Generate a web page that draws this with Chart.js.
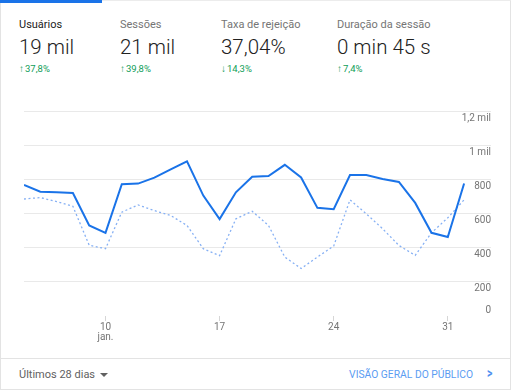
<!DOCTYPE html>
<html>
<head>
<meta charset="utf-8">
<script src="https://cdn.jsdelivr.net/npm/chart.js@4/dist/chart.umd.min.js"></script>
<style>
  body { margin: 0; background: #fff; font-family: Roboto, "Noto Sans", sans-serif; }
  .card { position: absolute; left: 0; top: 0; width: 509px; height: 388px; border: 1px solid #e3e3e3; border-top-color: #ececec; }
  .tab { position: absolute; left: -1px; top: -1px; width: 102px; height: 3px; background: #1a73e8; }
  .metric { position: absolute; top: 16px; }
  .metric .title { font-size: 11px; color: #757575; height: 16px; line-height: 16px; }
  .metric.sel .title { color: #212121; }
  .metric .value { font-size: 20.5px; font-weight: 300; color: #212121; line-height: 26px; margin-top: 1px; }
  .metric .delta { font-size: 9.5px; color: #0f9d58; line-height: 12px; margin-top: 3px; }
  .metric .delta b { font-weight: 700; font-size: 10px; margin-right: 1px; }
  #chartBox { position: absolute; left: -1px; top: 99px; width: 512px; height: 245px; }
  .footer { position: absolute; left: 0; top: 357px; width: 509px; border-top: 1px solid #e3e3e3; height: 31px; }
  .range { position: absolute; left: 18px; top: 9px; font-size: 11px; color: #616161; }
  .range .caret { display: inline-block; margin-left: 5px; width: 0; height: 0; border-left: 4px solid transparent; border-right: 4px solid transparent; border-top: 4px solid #616161; vertical-align: middle; }
  .link { position: absolute; right: 37px; top: 9px; font-size: 10.3px; color: #5b9cf2; }
  .chev { position: absolute; right: 17px; top: 6px; font-size: 14px; font-weight: 700; color: #4f8ff0; transform: scaleX(0.75); }
</style>
</head>
<body>
<div class="card">
  <div class="tab"></div>
  <div class="metric sel" style="left:18px">
    <div class="title">Usuários</div>
    <div class="value">19 mil</div>
    <div class="delta"><b>&#8593;</b>37,8%</div>
  </div>
  <div class="metric" style="left:119px">
    <div class="title">Sessões</div>
    <div class="value">21 mil</div>
    <div class="delta"><b>&#8593;</b>39,8%</div>
  </div>
  <div class="metric" style="left:220px">
    <div class="title">Taxa de rejeição</div>
    <div class="value">37,04%</div>
    <div class="delta"><b>&#8595;</b>14,3%</div>
  </div>
  <div class="metric" style="left:336px">
    <div class="title">Duração da sessão</div>
    <div class="value">0 min 45 s</div>
    <div class="delta"><b>&#8593;</b>7,4%</div>
  </div>
  <div id="chartBox"><canvas id="chart"></canvas></div>
  <div class="footer">
    <div class="range">Últimos 28 dias<span class="caret"></span></div>
    <div class="link">VISÃO GERAL DO PÚBLICO</div>
    <div class="chev">&gt;</div>
  </div>
</div>

<script>
// daily values, 5 jan. .. 1 fev.
const usuarios = [767, 728, 724, 720, 530, 487, 771, 775, 810, 858, 905, 705, 567, 724,
  815, 819, 885, 811, 633, 625, 825, 825, 802, 785, 662, 487, 462, 776];
const periodoAnterior = [685, 693, 670, 642, 414, 394, 608, 650, 617, 588, 530, 394, 353, 569,
  613, 530, 345, 278, 345, 410, 680, 598, 511, 413, 355, 487, 575, 680];

const xTickIndex = [5, 12, 19, 26];
const xTickLabels = [["10", "jan."], "17", "24", "31"];
const yTickValues = [0, 200, 400, 600, 800, 1000, 1200];
const yTickLabels = ["0", "200", "400", "600", "800", "1 mil", "1,2 mil"];

const toPoints = (arr) => arr.map((v, i) => ({ x: i, y: v }));
const gray = "#757575";
const font = { family: "Roboto", size: 10, lineHeight: 1.05 };

function yLabel(value) {
  const i = yTickValues.indexOf(value);
  return i >= 0 ? yTickLabels[i] : "";
}

new Chart(document.getElementById("chart"), {
  type: "line",
  data: {
    datasets: [
      {
        label: "Usuários",
        data: toPoints(usuarios),
        borderColor: "#1a73e8",
        borderWidth: 2,
        pointRadius: 0,
        tension: 0,
      },
      {
        label: "Período anterior",
        data: toPoints(periodoAnterior),
        borderColor: "#86b0f4",
        borderWidth: 1.3,
        borderDash: [2, 2.5],
        pointRadius: 0,
        tension: 0,
      },
    ],
  },
  options: {
    responsive: true,
    maintainAspectRatio: false,
    animation: false,
    layout: { padding: { left: 24, right: 21, top: 11, bottom: 0 } },
    plugins: { legend: { display: false }, tooltip: { enabled: false } },
    scales: {
      x: {
        type: "linear",
        min: 0,
        max: 28.65,
        afterBuildTicks: (s) => { s.ticks = xTickIndex.map((v) => ({ value: v })); },
        afterFit: (s) => { s.height = 29; },
        ticks: {
          callback: (v) => xTickLabels[xTickIndex.indexOf(v)],
          color: gray,
          font: font,
          padding: 1,
          maxRotation: 0,
          autoSkip: false,
        },
        grid: { drawOnChartArea: false, drawTicks: true, tickLength: 5, color: "#d6d6d6" },
        border: { display: false },
      },
      y: {
        position: "right",
        min: 0,
        max: 1200,
        afterBuildTicks: (s) => { s.ticks = yTickValues.filter((v) => v > 0).map((v) => ({ value: v })); },
        ticks: {
          mirror: true,
          padding: 0,
          labelOffset: 7,
          color: gray,
          font: font,
          callback: yLabel,
        },
        grid: { color: "#e9e9e9", lineWidth: 1, drawTicks: false },
        border: { display: false },
      },
      y0: {
        position: "right",
        min: 0,
        max: 1200,
        afterBuildTicks: (s) => { s.ticks = [{ value: 0 }]; },
        ticks: {
          mirror: true,
          padding: 0,
          labelOffset: -6,
          color: gray,
          font: font,
          callback: yLabel,
        },
        grid: { display: false, drawTicks: false },
        border: { display: false },
      },
    },
  },
});
</script>
</body>
</html>
